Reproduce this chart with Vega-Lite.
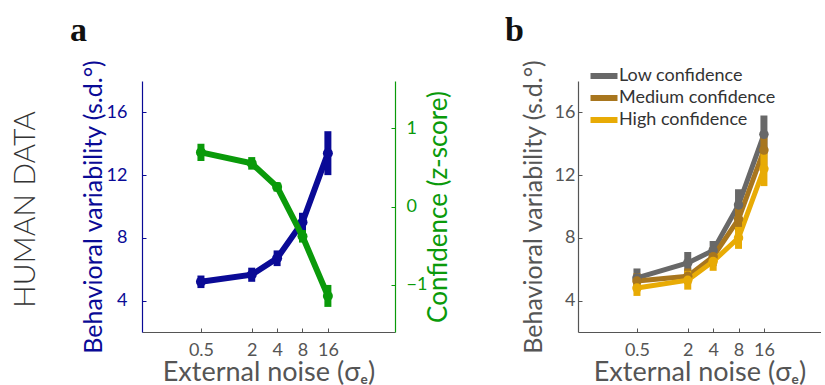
{
  "$schema": "https://vega.github.io/schema/vega-lite/v6.json",
  "usermeta": {"embedOptions": {"actions": false}},
  "background": "white",
  "padding": {"left": 11, "top": 14, "right": 0, "bottom": 0},
  "config": {
    "view": {"stroke": null},
    "font": "Lato",
    "axis": {
      "labelFont": "Lato", "titleFont": "Lato",
      "labelFontSize": 18, "titleFontSize": 25, "titleFontWeight": "normal",
      "grid": false, "tickSize": -4, "tickWidth": 1, "domainWidth": 1.2,
      "labelColor": "#555555", "titleColor": "#555555", "domainColor": "#555555", "tickColor": "#555555"
    },
    "axisX": {"labelPadding": 13, "titlePadding": 0, "titleFontSize": 27},
    "axisY": {"labelPadding": 7, "titlePadding": 8}
  },
  "title": {"text": "HUMAN DATA", "orient": "left", "font": "Lato", "fontSize": 30, "fontWeight": 300, "color": "#333333", "offset": 29, "dx": 77},
  "bounds": "flush",
  "spacing": 183,
  "resolve": {"scale": {"color": "independent"}, "legend": {"color": "independent"}},
  "hconcat": [
    {
      "width": 253, "height": 251,
      "title": {"text": "a", "anchor": "start", "frame": "group", "dx": -72, "font": "Liberation Serif", "fontSize": 34, "fontWeight": "bold", "color": "#111111", "offset": 11},
      "data": {"values": [
        {"noise": 0.5, "bv": 5.2, "bvLo": 4.8, "bvHi": 5.6, "conf": 0.69, "confLo": 0.58, "confHi": 0.8},
        {"noise": 2, "bv": 5.65, "bvLo": 5.2, "bvHi": 6.1, "conf": 0.55, "confLo": 0.47, "confHi": 0.63},
        {"noise": 4, "bv": 6.7, "bvLo": 6.2, "bvHi": 7.2, "conf": 0.25, "confLo": 0.19, "confHi": 0.31},
        {"noise": 8, "bv": 9.0, "bvLo": 8.4, "bvHi": 9.6, "conf": -0.38, "confLo": -0.46, "confHi": -0.3},
        {"noise": 16, "bv": 13.4, "bvLo": 12.0, "bvHi": 14.8, "conf": -1.14, "confLo": -1.28, "confHi": -1.0}
      ]},
      "encoding": {
        "x": {"field": "noise", "type": "quantitative",
          "scale": {"type": "log", "domain": [0.1, 100], "nice": false},
          "axis": {"values": [0.5, 2, 4, 8, 16], "title": "External noise (σₑ)", "format": "~g"}}
      },
      "layer": [
        {
          "layer": [
            {"mark": {"type": "line", "color": "#0a0a96", "strokeWidth": 6},
             "encoding": {"y": {"field": "bv", "type": "quantitative", "scale": {"domain": [2, 18], "nice": false},
               "axis": {"title": "Behavioral variability (s.d.°)", "values": [4, 8, 12, 16], "orient": "left", "labelPadding": 19, "titlePadding": 0, "titleColor": "#0a0a96", "labelColor": "#0a0a96", "domainColor": "#0a0a96", "tickColor": "#0a0a96"}}}},
            {"mark": {"type": "rule", "color": "#0a0a96", "strokeWidth": 7},
             "encoding": {"y": {"field": "bvLo", "type": "quantitative", "scale": {"domain": [2, 18], "nice": false},
               "axis": {"title": "Behavioral variability (s.d.°)", "values": [4, 8, 12, 16], "orient": "left", "labelPadding": 19, "titlePadding": 0, "titleColor": "#0a0a96", "labelColor": "#0a0a96", "domainColor": "#0a0a96", "tickColor": "#0a0a96"}},
               "y2": {"field": "bvHi"}}},
            {"mark": {"type": "point", "filled": true, "color": "#0a0a96", "size": 100, "opacity": 1},
             "encoding": {"y": {"field": "bv", "type": "quantitative", "scale": {"domain": [2, 18], "nice": false},
               "axis": {"title": "Behavioral variability (s.d.°)", "values": [4, 8, 12, 16], "orient": "left", "labelPadding": 19, "titlePadding": 0, "titleColor": "#0a0a96", "labelColor": "#0a0a96", "domainColor": "#0a0a96", "tickColor": "#0a0a96"}}}}
          ]
        },
        {
          "layer": [
            {"mark": {"type": "line", "color": "#0a9a0a", "strokeWidth": 6},
             "encoding": {"y": {"field": "conf", "type": "quantitative", "scale": {"domain": [-1.6, 1.6], "nice": false},
               "axis": {"title": "Confidence (z-score)", "values": [-1, 0, 1], "orient": "right", "labelPadding": 15, "titlePadding": -1, "titleFontSize": 26, "titleAngle": 270, "titleBaseline": "top", "titleColor": "#0a9a0a", "labelColor": "#0a9a0a", "domainColor": "#0a9a0a", "tickColor": "#0a9a0a"}}}},
            {"mark": {"type": "rule", "color": "#0a9a0a", "strokeWidth": 7},
             "encoding": {"y": {"field": "confLo", "type": "quantitative", "scale": {"domain": [-1.6, 1.6], "nice": false},
               "axis": {"title": "Confidence (z-score)", "values": [-1, 0, 1], "orient": "right", "labelPadding": 15, "titlePadding": -1, "titleFontSize": 26, "titleAngle": 270, "titleBaseline": "top", "titleColor": "#0a9a0a", "labelColor": "#0a9a0a", "domainColor": "#0a9a0a", "tickColor": "#0a9a0a"}},
               "y2": {"field": "confHi"}}},
            {"mark": {"type": "point", "filled": true, "color": "#0a9a0a", "size": 100, "opacity": 1},
             "encoding": {"y": {"field": "conf", "type": "quantitative", "scale": {"domain": [-1.6, 1.6], "nice": false},
               "axis": {"title": "Confidence (z-score)", "values": [-1, 0, 1], "orient": "right", "labelPadding": 15, "titlePadding": -1, "titleFontSize": 26, "titleAngle": 270, "titleBaseline": "top", "titleColor": "#0a9a0a", "labelColor": "#0a9a0a", "domainColor": "#0a9a0a", "tickColor": "#0a9a0a"}}}}
          ]
        }
      ],
      "resolve": {"scale": {"y": "independent"}, "axis": {"y": "independent"}}
    },
    {
      "width": 243, "height": 251,
      "title": {"text": "b", "anchor": "start", "frame": "group", "dx": -73, "font": "Liberation Serif", "fontSize": 34, "fontWeight": "bold", "color": "#111111", "offset": 11},
      "data": {"values": [
        {"noise": 0.5, "level": "Low confidence", "bv": 5.45, "lo": 4.85, "hi": 6.05},
        {"noise": 2, "level": "Low confidence", "bv": 6.4, "lo": 5.7, "hi": 7.1},
        {"noise": 4, "level": "Low confidence", "bv": 7.2, "lo": 6.6, "hi": 7.8},
        {"noise": 8, "level": "Low confidence", "bv": 10.1, "lo": 9.1, "hi": 11.1},
        {"noise": 16, "level": "Low confidence", "bv": 14.6, "lo": 13.4, "hi": 15.8},
        {"noise": 0.5, "level": "Medium confidence", "bv": 5.25, "lo": 4.75, "hi": 5.75},
        {"noise": 2, "level": "Medium confidence", "bv": 5.55, "lo": 5.05, "hi": 6.05},
        {"noise": 4, "level": "Medium confidence", "bv": 6.8, "lo": 6.2, "hi": 7.4},
        {"noise": 8, "level": "Medium confidence", "bv": 9.2, "lo": 8.4, "hi": 10.0},
        {"noise": 16, "level": "Medium confidence", "bv": 13.6, "lo": 12.6, "hi": 14.6},
        {"noise": 0.5, "level": "High confidence", "bv": 4.8, "lo": 4.3, "hi": 5.3},
        {"noise": 2, "level": "High confidence", "bv": 5.3, "lo": 4.7, "hi": 5.9},
        {"noise": 4, "level": "High confidence", "bv": 6.5, "lo": 5.9, "hi": 7.1},
        {"noise": 8, "level": "High confidence", "bv": 8.0, "lo": 7.3, "hi": 8.7},
        {"noise": 16, "level": "High confidence", "bv": 12.4, "lo": 11.3, "hi": 13.5}
      ]},
      "encoding": {
        "x": {"field": "noise", "type": "quantitative",
          "scale": {"type": "log", "domain": [0.1, 76], "nice": false},
          "axis": {"values": [0.5, 2, 4, 8, 16], "title": "External noise (σₑ)", "format": "~g"}},
        "color": {"field": "level", "type": "nominal",
          "scale": {"domain": ["Low confidence", "Medium confidence", "High confidence"], "range": ["#686868", "#a8761e", "#e8ab05"]},
          "legend": null}
      },
      "layer": [
        {"mark": {"type": "line", "strokeWidth": 5},
         "encoding": {
           "y": {"field": "bv", "type": "quantitative", "scale": {"domain": [2, 18], "nice": false},
             "axis": {"title": "Behavioral variability (s.d.°)", "values": [4, 8, 12, 16]}},
           "color": {"field": "level", "type": "nominal",
             "scale": {"domain": ["Low confidence", "Medium confidence", "High confidence"], "range": ["#686868", "#a8761e", "#e8ab05"]},
             "legend": {"title": null, "orient": "none", "legendX": 16, "legendY": -15, "padding": 0,
               "symbolType": "M-2,0H2", "symbolSize": 182, "symbolStrokeWidth": 6, "symbolFillColor": "transparent",
               "labelFont": "Lato", "labelFontSize": 18, "labelColor": "#333333", "labelOffset": 5, "rowPadding": -3}}}},
        {"mark": {"type": "rule", "strokeWidth": 7},
         "encoding": {
           "y": {"field": "lo", "type": "quantitative", "scale": {"domain": [2, 18], "nice": false},
             "axis": {"title": "Behavioral variability (s.d.°)", "values": [4, 8, 12, 16]}},
           "y2": {"field": "hi"}}},
        {"mark": {"type": "point", "filled": true, "size": 90, "opacity": 1},
         "encoding": {
           "y": {"field": "bv", "type": "quantitative", "scale": {"domain": [2, 18], "nice": false},
             "axis": {"title": "Behavioral variability (s.d.°)", "values": [4, 8, 12, 16]}}}}
      ]
    }
  ]
}
